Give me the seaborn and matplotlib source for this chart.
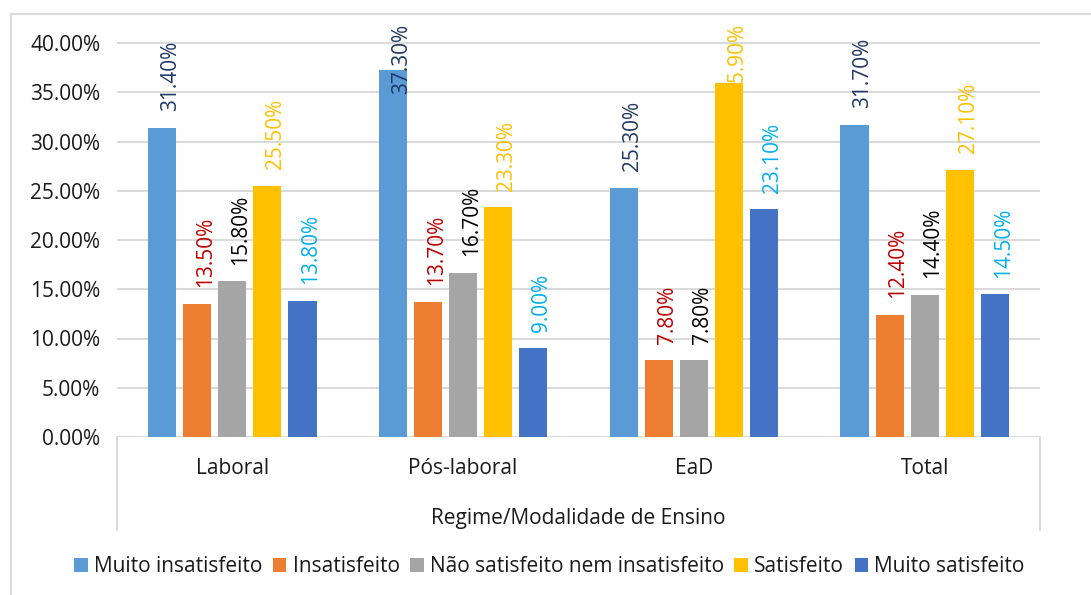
import numpy as np
import pandas as pd
import matplotlib
matplotlib.use("Agg")
import matplotlib.pyplot as plt
import seaborn as sns
from matplotlib.patches import Rectangle
from matplotlib.ticker import FuncFormatter

# dados (%)
regimes = ["Laboral", "Pós-laboral", "EaD", "Total"]
niveis = ["Muito insatisfeito", "Insatisfeito", "Não satisfeito nem insatisfeito",
          "Satisfeito", "Muito satisfeito"]
muito_insatisfeito = [31.4, 37.3, 25.3, 31.7]
insatisfeito = [13.5, 13.7, 7.8, 12.4]
neutro = [15.8, 16.7, 7.8, 14.4]
satisfeito = [25.5, 23.3, 35.9, 27.1]
muito_satisfeito = [13.8, 9.0, 23.1, 14.5]

cores_barras = ["#5B9BD5", "#ED7D31", "#A5A5A5", "#FFC000", "#4472C4"]
cores_rotulos = ["#1F3864", "#C00000", "#000000", "#FFC000", "#00B0F0"]

valores = [muito_insatisfeito, insatisfeito, neutro, satisfeito, muito_satisfeito]
tabela = pd.DataFrame({
    "Regime": regimes * len(niveis),
    "Nivel": np.repeat(niveis, len(regimes)),
    "Valor": np.concatenate(valores),
})

sns.set_style("white")
plt.rcParams["font.family"] = ["Open Sans", "DejaVu Sans"]
texto = "#1a1a1a"
cinza = "#D9D9D9"
fs = 15

W, H = 1091, 595
fig = plt.figure(figsize=(W / 100, H / 100), dpi=100)
ax = fig.add_axes([117 / W, (H - 437) / H, (1040 - 117) / W, (437 - 22) / H])

sns.barplot(data=tabela, x="Regime", y="Valor", hue="Nivel", order=regimes,
            hue_order=niveis, palette=cores_barras, saturation=1, width=0.76,
            gap=0.2, linewidth=0, ax=ax)

ax.set_xlim(-0.5, 3.5)
ax.set_ylim(0, 40 * 415 / 394)
ax.set_yticks(np.arange(0, 41, 5))
ax.yaxis.set_major_formatter(FuncFormatter(lambda v, p: f"{v:.2f}%"))
ax.yaxis.grid(True, color=cinza, lw=1.4)
ax.set_axisbelow(True)
for s in ax.spines.values():
    s.set_visible(False)
ax.tick_params(axis="y", length=0, pad=12, labelsize=fs, labelcolor=texto)
ax.tick_params(axis="x", length=0, pad=15, labelsize=fs, labelcolor=texto)
ax.set_ylabel("")
ax.set_xlabel("Regime/Modalidade de Ensino", fontsize=fs, color=texto, labelpad=21)

# linhas verticais do eixo de categorias
for xa in (0, 1):
    ax.plot([xa, xa], [0, -(530 - 437) / 415], transform=ax.transAxes,
            color=cinza, lw=1.4, clip_on=False)

# rótulos de dados; os que não cabem ficam presos ao topo da área
fig.canvas.draw()
topo_px = ax.transAxes.transform((0, 1))[1]
for cont, cor in zip(ax.containers, cores_rotulos):
    for barra in cont:
        h = barra.get_height()
        x = barra.get_x() + barra.get_width() / 2
        t = ax.annotate(f"{h:.2f}%", xy=(x, h), xytext=(6, 12),
                        textcoords="offset points", rotation=90, ha="center",
                        va="bottom", color=cor, fontsize=fs)
        bb = t.get_window_extent(fig.canvas.get_renderer())
        if bb.y1 > topo_px:
            t.remove()
            ax.annotate(f"{h:.2f}%", xy=(x, 1), xycoords=("data", "axes fraction"),
                        xytext=(6, -1), textcoords="offset points", rotation=90,
                        ha="center", va="top", color=cor, fontsize=fs)

handles, labels = ax.get_legend_handles_labels()
ax.get_legend().remove()
fig.legend(handles, labels, loc="center", bbox_to_anchor=(549.5 / W, 1 - 567 / H),
           ncol=5, frameon=False, fontsize=fs, handlelength=0.65, handleheight=0.65,
           handletextpad=0.3, columnspacing=0.5, labelcolor=texto)

fig.patches.append(Rectangle((11 / W, -0.1), 1.2, (H - 14) / H + 0.1,
                             transform=fig.transFigure, fill=False, ec=cinza, lw=1.4))

fig.savefig("out.png", dpi=100)
